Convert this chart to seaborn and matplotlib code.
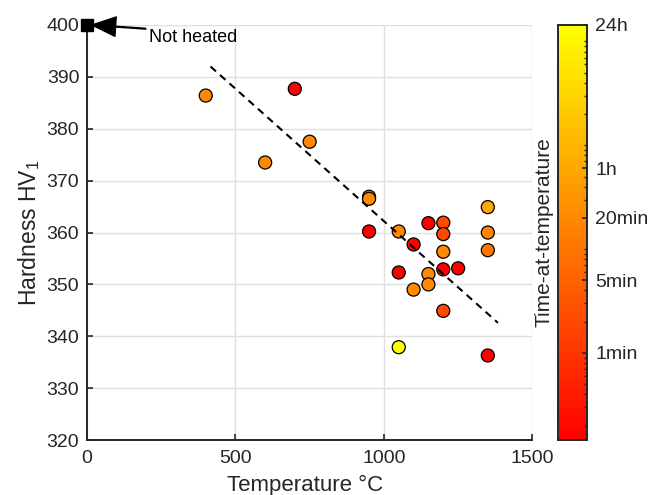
import numpy as np
import pandas as pd
import matplotlib
matplotlib.use("Agg")
import matplotlib.pyplot as plt
import seaborn as sns
from matplotlib.colors import LogNorm
from matplotlib.ticker import FixedLocator, NullFormatter

# Hardness measurements after heat treatment
temperature = [400, 600, 700, 750, 950, 950, 950, 1050, 1050, 1050, 1100, 1100,
               1150, 1150, 1150, 1200, 1200, 1200, 1200, 1200, 1250,
               1350, 1350, 1350, 1350]
hardness = [386.4, 373.5, 387.7, 377.5, 366.9, 366.5, 360.2, 360.2, 352.3, 337.9,
            357.7, 349.0, 361.8, 352.0, 350.0, 361.9, 359.7, 356.3, 352.9, 344.9,
            353.1, 364.9, 360.0, 356.6, 336.3]
# time at temperature, minutes
time_min = [20, 20, 0.145, 20, 20, 20, 0.145, 20, 0.145, 1440, 0.145, 20,
            0.145, 20, 20, 2, 2, 20, 0.145, 2, 0.145, 60, 18, 10, 0.145]

# untreated reference sample
ref_temperature = [0]
ref_hardness = [400]

# linear trend
fit_temperature = [416, 1384]
fit_hardness = [392.0, 342.6]

cbar_ticks = [1, 5, 20, 60, 1440]
cbar_labels = ["1min", "5min", "20min", "1h", "24h"]

df = pd.DataFrame({"T": temperature, "HV": hardness, "t": time_min})
fit_df = pd.DataFrame({"T": fit_temperature, "HV": fit_hardness})

sns.set_style("ticks")
plt.rcParams["font.family"] = ["Liberation Sans", "DejaVu Sans"]
plt.rcParams["mathtext.default"] = "regular"

ink = "#262626"
fig = plt.figure(figsize=(6.54, 4.95), dpi=100)
ax = fig.add_axes([0.133, 0.111, 0.681, 0.8385])
cax = fig.add_axes([0.853, 0.111, 0.0443, 0.8385])

norm = LogNorm(vmin=min(time_min), vmax=max(time_min))

sns.scatterplot(data=df, x="T", y="HV", hue="t", hue_norm=norm, palette="autumn",
                s=88, edgecolor="black", linewidth=0.9, legend=False, ax=ax,
                zorder=3)
sns.lineplot(data=fit_df, x="T", y="HV", color="black", linestyle=(0, (3.5, 2.6)),
             linewidth=1.5, ax=ax, zorder=4)
ax.plot(ref_temperature, ref_hardness, marker="s", markersize=8, color="black",
        linestyle="none", clip_on=False, zorder=5)
ax.annotate("Not heated", xy=(17, 400), xytext=(209, 397.6),
            fontsize=13, color="black", ha="left", va="center",
            arrowprops=dict(facecolor="black", edgecolor="black", width=0.6,
                            headwidth=14, headlength=17, shrink=0.0),
            annotation_clip=False, zorder=6)

ax.set_xlim(0, 1500)
ax.set_ylim(320, 400)
ax.set_xticks([0, 500, 1000, 1500])
ax.set_yticks(np.arange(320, 401, 10))
ax.grid(True, color="#e0e0e0", linewidth=1.0)
ax.set_axisbelow(True)
for side in ["top", "right"]:
    ax.spines[side].set_visible(False)
for side in ["left", "bottom"]:
    ax.spines[side].set_color(ink)
    ax.spines[side].set_linewidth(1.4)
ax.tick_params(direction="in", length=4, width=1.2, colors=ink, labelsize=14)
ax.tick_params(axis="y", pad=5.5)
ax.tick_params(axis="x", pad=7)
ax.set_xlabel("Temperature °C", fontsize=16, color=ink)
ax.xaxis.set_label_coords(0.489, -0.085)
ax.set_ylabel("Hardness HV$_1$", fontsize=16.5, color=ink, labelpad=3)

sm = plt.cm.ScalarMappable(norm=norm, cmap="autumn")
cbar = fig.colorbar(sm, cax=cax)
cbar.set_ticks(cbar_ticks, labels=cbar_labels)

# logarithmic minor ticks across the colour range
lo, hi = norm.vmin, norm.vmax
decades = np.arange(np.floor(np.log10(lo)), np.ceil(np.log10(hi)) + 1)
minor = [k * 10.0 ** d for d in decades for k in range(1, 10)]
minor = [m for m in minor if lo <= m <= hi]
cbar.minorlocator = FixedLocator(minor)
cax.yaxis.set_minor_formatter(NullFormatter())
cax.set_axisbelow(False)

cbar.outline.set_edgecolor(ink)
cbar.outline.set_linewidth(1.4)
cax.tick_params(which="major", direction="in", length=3.5, width=1.2,
                colors=ink, labelsize=14, pad=6)
cax.tick_params(which="minor", direction="in", length=2.2, width=1.0, colors=ink)
cbar.set_label("Time-at-temperature", fontsize=15, color=ink, labelpad=3)
cax.yaxis.set_label_position("left")

fig.savefig("out.png", dpi=100)
